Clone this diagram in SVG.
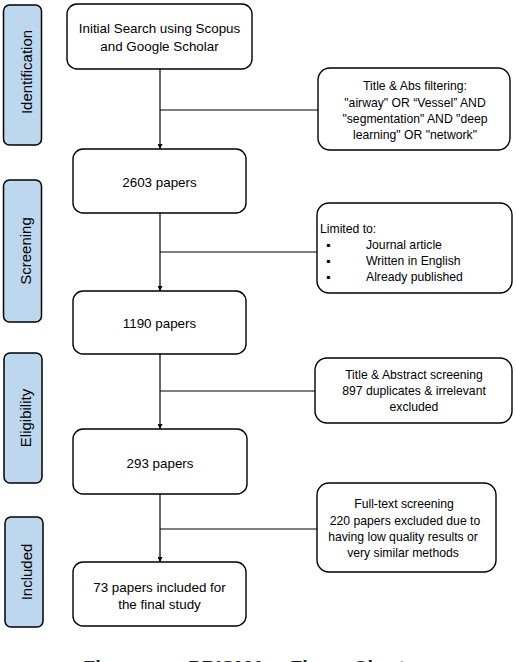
<svg xmlns="http://www.w3.org/2000/svg" width="516" height="662" viewBox="0 0 516 662">
<style>
.side{fill:#BDD7EE;stroke:#000;stroke-width:1.5}
.box{fill:#fff;stroke:#000;stroke-width:1.4}
.t{font-family:"Liberation Sans",Arial,sans-serif;font-size:13.4px;fill:#000;text-anchor:middle}
.s{font-family:"Liberation Sans",Arial,sans-serif;font-size:12.2px;fill:#000;text-anchor:middle}
.sl{font-family:"Liberation Sans",Arial,sans-serif;font-size:12.2px;fill:#000}
.lab{font-family:"Liberation Sans",Arial,sans-serif;font-size:15px;fill:#000;text-anchor:middle}
.ln{stroke:#000;stroke-width:1.2;fill:none}
.cap{font-family:"Liberation Sans",Arial,sans-serif;font-size:20px;font-weight:bold;fill:#222}
</style>
<defs>
<marker id="ah" viewBox="0 0 6 6" refX="6" refY="3" markerWidth="5" markerHeight="5" markerUnits="userSpaceOnUse" orient="auto">
<path d="M0,0 L6,3 L0,6 z" fill="#000"/>
</marker>
</defs>
<rect width="516" height="662" fill="#fff"/>

<g id="stage-identification">
<rect class="side" x="3.5" y="5" width="38" height="140" rx="6"/>
<text class="lab" transform="translate(32,72) rotate(-90)">Identification</text>
</g>
<g id="stage-screening">
<rect class="side" x="3.5" y="180" width="38" height="142" rx="6"/>
<text class="lab" transform="translate(31,251) rotate(-90)">Screening</text>
</g>
<g id="stage-eligibility">
<rect class="side" x="4" y="353" width="38" height="130" rx="6"/>
<text class="lab" transform="translate(31,418) rotate(-90)">Eligibility</text>
</g>
<g id="stage-included">
<rect class="side" x="5" y="517" width="38" height="110" rx="6"/>
<text class="lab" transform="translate(32,572) rotate(-90)">Included</text>
</g>

<g id="connectors">
<line class="ln" x1="160" y1="69" x2="160" y2="149" marker-end="url(#ah)"/>
<line class="ln" x1="160" y1="213" x2="160" y2="291" marker-end="url(#ah)"/>
<line class="ln" x1="160" y1="354" x2="160" y2="429" marker-end="url(#ah)"/>
<line class="ln" x1="160" y1="494" x2="160" y2="562" marker-end="url(#ah)"/>
<line class="ln" x1="160" y1="110" x2="318" y2="110"/>
<line class="ln" x1="160" y1="252" x2="317" y2="252"/>
<line class="ln" x1="160" y1="391" x2="315" y2="391"/>
<line class="ln" x1="160" y1="529" x2="317" y2="529"/>
</g>

<g id="n-search">
<rect class="box" x="67" y="4" width="185" height="65" rx="10"/>
<text class="t" x="159.5" y="33">Initial Search using Scopus</text>
<text class="t" x="159.5" y="51">and Google Scholar</text>
</g>
<g id="n-2603">
<rect class="box" x="73" y="149" width="173" height="64" rx="10"/>
<text class="t" x="159.5" y="187">2603 papers</text>
</g>
<g id="n-1190">
<rect class="box" x="73" y="291" width="173" height="63" rx="10"/>
<text class="t" x="159.5" y="328">1190 papers</text>
</g>
<g id="n-293">
<rect class="box" x="73" y="429" width="174" height="65" rx="10"/>
<text class="t" x="160" y="468">293 papers</text>
</g>
<g id="n-73">
<rect class="box" x="73" y="562" width="173" height="64" rx="10"/>
<text class="t" x="159.5" y="592">73 papers included for</text>
<text class="t" x="159.5" y="609">the final study</text>
</g>

<g id="x-filter">
<rect class="box" x="318" y="68" width="192" height="82" rx="12"/>
<text class="s" x="415" y="90">Title &amp; Abs filtering:</text>
<text class="s" x="415" y="107">"airway" OR “Vessel” AND</text>
<text class="s" x="415" y="123">"segmentation" AND "deep</text>
<text class="s" x="415" y="139">learning" OR "network"</text>
</g>
<g id="x-limited">
<rect class="box" x="317" y="203" width="195" height="90" rx="12"/>
<text class="sl" x="320" y="233">Limited to:</text>
<text class="sl" x="326" y="249">▪</text><text class="sl" x="366" y="249">Journal article</text>
<text class="sl" x="326" y="265">▪</text><text class="sl" x="366" y="265">Written in English</text>
<text class="sl" x="326" y="281">▪</text><text class="sl" x="366" y="281">Already published</text>
</g>
<g id="x-abstract">
<rect class="box" x="315" y="358" width="197" height="65" rx="12"/>
<text class="s" x="414" y="379">Title &amp; Abstract screening</text>
<text class="s" x="414" y="395">897 duplicates &amp; irrelevant</text>
<text class="s" x="414" y="411">excluded</text>
</g>
<g id="x-fulltext">
<rect class="box" x="317" y="483" width="179" height="89" rx="12"/>
<text class="s" x="404" y="508">Full-text screening</text>
<text class="s" x="405" y="525">220 papers excluded due to</text>
<text class="s" x="403" y="541">having low quality results or</text>
<text class="s" x="403" y="557">very similar methods</text>
</g>

<text class="cap" y="675"><tspan x="83">Figure</tspan><tspan x="188">PRISMA</tspan><tspan x="290">Flow</tspan><tspan x="353">Chart</tspan></text>
</svg>
